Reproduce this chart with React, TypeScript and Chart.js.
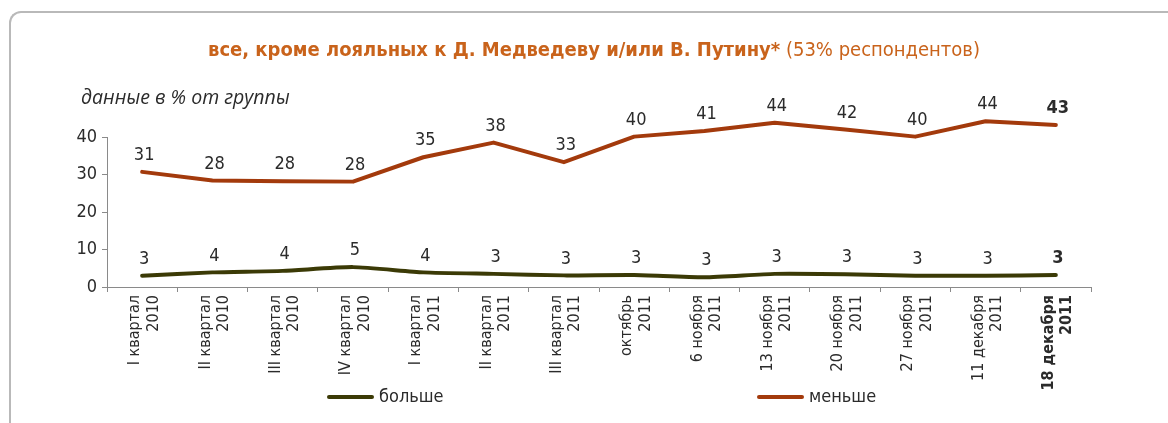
import React, { useEffect, useRef } from "react";
import { Chart, registerables } from "chart.js";

Chart.register(...registerables);

const categories: string[][] = [
  ["I квартал", "2010"],
  ["II квартал", "2010"],
  ["III квартал", "2010"],
  ["IV квартал", "2010"],
  ["I квартал", "2011"],
  ["II квартал", "2011"],
  ["III квартал", "2011"],
  ["октябрь", "2011"],
  ["6 ноября", "2011"],
  ["13 ноября", "2011"],
  ["20 ноября", "2011"],
  ["27 ноября", "2011"],
  ["11 декабря", "2011"],
  ["18 декабря", "2011"],
];

const moreValues = [3.0, 3.9, 4.3, 5.3, 3.9, 3.5, 3.1, 3.2, 2.6, 3.5, 3.4, 3.0, 3.0, 3.2];
const moreLabels = [3, 4, 4, 5, 4, 3, 3, 3, 3, 3, 3, 3, 3, 3];
const lessValues = [30.7, 28.4, 28.2, 28.1, 34.6, 38.5, 33.3, 40.1, 41.6, 43.8, 42.0, 40.1, 44.2, 43.2];
const lessLabels = [31, 28, 28, 28, 35, 38, 33, 40, 41, 44, 42, 40, 44, 43];

const seriesNames = ["больше", "меньше"];
const seriesColors = ["#3b3a06", "#a33a0c"];

const yMin = 0;
const yMax = 40;
const yStep = 10;

const titleBold = "все, кроме лояльных к Д. Медведеву и/или В. Путину*";
const titleNormal = " (53% респондентов)";
const subtitle = "данные в % от группы";

const NARROW = '"Liberation Sans Narrow", "DejaVu Sans Condensed", "Roboto", sans-serif';
const TEXT = "#2b2b2b";
const AXIS = "#8a8a8a";
const TITLE_COLOR = "#c9631b";

const valueLabelsPlugin = {
  id: "valueLabels",
  afterDatasetsDraw(chart: any) {
    const ctx = chart.ctx;
    const allLabels = [moreLabels, lessLabels];
    chart.data.datasets.forEach((ds: any, di: number) => {
      const meta = chart.getDatasetMeta(di);
      meta.data.forEach((pt: any, i: number) => {
        const last = i === meta.data.length - 1;
        ctx.save();
        ctx.font = `${last ? "bold " : ""}18px ${NARROW}`;
        ctx.fillStyle = TEXT;
        ctx.textAlign = "center";
        ctx.textBaseline = "middle";
        ctx.fillText(String(allLabels[di][i]), pt.x + 2, pt.y - 16.5);
        ctx.restore();
      });
    });
  },
};

const decorPlugin = {
  id: "decor",
  afterDraw(chart: any) {
    const ctx = chart.ctx;
    ctx.save();
    // title
    ctx.textBaseline = "alphabetic";
    ctx.font = `bold 20px ${NARROW}`;
    const wb = ctx.measureText(titleBold).width;
    ctx.font = `20px ${NARROW}`;
    const wn = ctx.measureText(titleNormal).width;
    const cx = 594;
    const x0 = cx - (wb + wn) / 2;
    ctx.fillStyle = TITLE_COLOR;
    ctx.textAlign = "left";
    ctx.font = `bold 20px ${NARROW}`;
    ctx.fillText(titleBold, x0, 56);
    ctx.font = `20px ${NARROW}`;
    ctx.fillText(titleNormal, x0 + wb, 56);
    // subtitle
    ctx.fillStyle = TEXT;
    ctx.font = `italic 19.5px "Open Sans", sans-serif`;
    ctx.fillText(subtitle, 81, 104);
    // legend
    const legendX = [327, 757];
    chart.data.datasets.forEach((ds: any, di: number) => {
      const lx = legendX[di];
      const ly = 397;
      ctx.strokeStyle = ds.borderColor;
      ctx.lineWidth = 4;
      ctx.lineCap = "round";
      ctx.beginPath();
      ctx.moveTo(lx + 2, ly);
      ctx.lineTo(lx + 45, ly);
      ctx.stroke();
      ctx.fillStyle = TEXT;
      ctx.font = `18px ${NARROW}`;
      ctx.textBaseline = "middle";
      ctx.fillText(ds.label, lx + 52, ly);
    });
    ctx.restore();
  },
};

export default function App() {
  const canvasRef = useRef<HTMLCanvasElement | null>(null);

  useEffect(() => {
    document.body.style.margin = "0";
    const canvas = canvasRef.current;
    if (!canvas) return;
    const chart = new Chart(canvas, {
      type: "line",
      data: {
        labels: categories,
        datasets: [
          {
            label: seriesNames[0],
            data: moreValues,
            borderColor: seriesColors[0],
            backgroundColor: seriesColors[0],
            borderWidth: 4,
            pointRadius: 0,
            tension: 0.2,
            clip: false as any,
            borderCapStyle: "round",
            borderJoinStyle: "round",
          },
          {
            label: seriesNames[1],
            data: lessValues,
            borderColor: seriesColors[1],
            backgroundColor: seriesColors[1],
            borderWidth: 4,
            pointRadius: 0,
            tension: 0,
            clip: false as any,
            borderCapStyle: "round",
            borderJoinStyle: "round",
          },
        ],
      },
      options: {
        responsive: false,
        animation: false,
        devicePixelRatio: 1,
        layout: { padding: { left: 67, right: 77, top: 137, bottom: 0 } },
        plugins: {
          legend: { display: false },
          title: { display: false },
          tooltip: { enabled: false },
        },
        scales: {
          x: {
            offset: true,
            grid: {
              display: true,
              offset: true,
              drawOnChartArea: false,
              drawTicks: true,
              tickLength: 5,
              color: AXIS,
              lineWidth: 1,
            },
            border: { display: true, color: AXIS, width: 1 },
            ticks: {
              autoSkip: false,
              minRotation: 90,
              maxRotation: 90,
              padding: 3,
              labelOffset: -7,
              color: TEXT,
              font: (c: any) => ({
                family: NARROW,
                size: 16,
                weight: c.index === categories.length - 1 ? "bold" : "normal",
                lineHeight: 1.15,
              }),
            },
            afterFit: (s: any) => {
              s.height = 136;
            },
          },
          y: {
            min: yMin,
            max: yMax,
            grid: {
              display: true,
              drawOnChartArea: false,
              drawTicks: true,
              tickLength: 5,
              color: AXIS,
            },
            border: { display: true, color: AXIS, width: 1 },
            ticks: {
              stepSize: yStep,
              padding: 5,
              color: TEXT,
              font: { family: NARROW, size: 18 },
            },
            afterFit: (s: any) => {
              s.width = 40;
            },
          },
        },
      },
      plugins: [valueLabelsPlugin, decorPlugin],
    });
    return () => chart.destroy();
  }, []);

  return (
    <div
      style={{
        position: "relative",
        width: 1168,
        height: 423,
        overflow: "hidden",
        background: "#fff",
      }}
    >
      <div
        style={{
          position: "absolute",
          left: 9,
          top: 11,
          width: 1300,
          height: 600,
          borderTop: "2px solid #b9b9b9",
          borderLeft: "2px solid #b9b9b9",
          borderTopLeftRadius: 12,
          boxSizing: "border-box",
        }}
      />
      <canvas
        ref={canvasRef}
        width={1168}
        height={423}
        style={{ position: "absolute", left: 0, top: 0, width: 1168, height: 423 }}
      />
    </div>
  );
}
